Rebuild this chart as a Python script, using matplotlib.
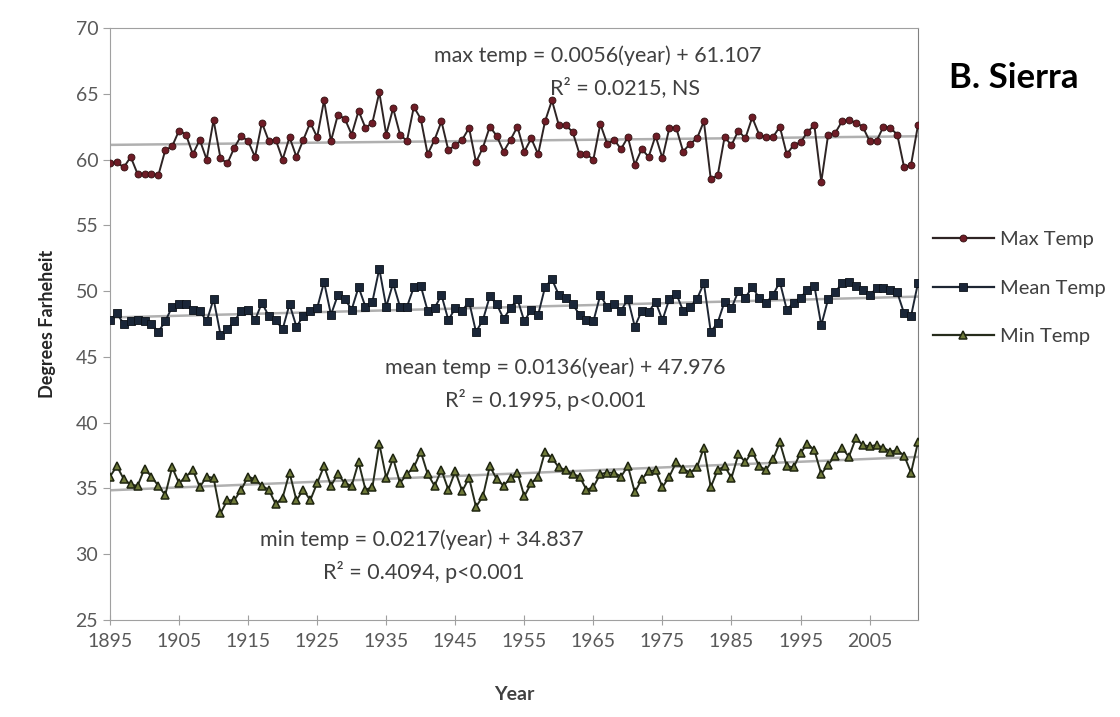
import numpy as np
import matplotlib.pyplot as plt
from matplotlib.lines import Line2D

# %% Data (1895-2012)
years = np.arange(1895, 2013)

max_temp = [59.7, 59.8, 59.4, 60.2, 58.9, 58.9, 58.9, 58.8, 60.7, 61.0,
            62.2, 61.9, 60.4, 61.5, 60.0, 63.0, 60.1, 59.7, 60.9, 61.8,
            61.4, 60.2, 62.8, 61.4, 61.5, 60.0, 61.7, 60.2, 61.5, 62.8,
            61.7, 64.5, 61.4, 63.4, 63.1, 61.9, 63.7, 62.4, 62.8, 65.1,
            61.9, 63.9, 61.9, 61.4, 64.0, 63.1, 60.4, 61.5, 62.9, 60.7,
            61.1, 61.5, 62.4, 59.8, 60.9, 62.5, 61.8, 60.6, 61.5, 62.5,
            60.6, 61.6, 60.4, 62.9, 64.5, 62.6, 62.6, 62.1, 60.4, 60.4,
            60.0, 62.7, 61.2, 61.5, 60.8, 61.7, 59.6, 60.8, 60.2, 61.8,
            60.1, 62.4, 62.4, 60.6, 61.2, 61.6, 62.9, 58.5, 58.8, 61.7,
            61.1, 62.2, 61.6, 63.2, 61.9, 61.7, 61.7, 62.5, 60.4, 61.1,
            61.3, 62.1, 62.6, 58.3, 61.9, 62.0, 62.9, 63.0, 62.8, 62.5,
            61.4, 61.4, 62.5, 62.4, 61.9, 59.4, 59.6, 62.6]

mean_temp = [47.8, 48.3, 47.5, 47.7, 47.8, 47.7, 47.5, 46.9, 47.7, 48.8,
             49.0, 49.0, 48.6, 48.5, 47.7, 49.4, 46.7, 47.1, 47.7, 48.5,
             48.6, 47.8, 49.1, 48.1, 47.8, 47.1, 49.0, 47.3, 48.1, 48.5,
             48.7, 50.7, 48.2, 49.7, 49.4, 48.6, 50.3, 48.8, 49.2, 51.7,
             48.8, 50.6, 48.8, 48.8, 50.3, 50.4, 48.5, 48.7, 49.7, 47.8,
             48.7, 48.5, 49.2, 46.9, 47.8, 49.6, 49.0, 47.9, 48.7, 49.4,
             47.7, 48.6, 48.2, 50.3, 50.9, 49.7, 49.5, 49.0, 48.2, 47.8,
             47.7, 49.7, 48.8, 49.0, 48.5, 49.4, 47.3, 48.5, 48.4, 49.2,
             47.8, 49.4, 49.8, 48.5, 48.8, 49.4, 50.6, 46.9, 47.6, 49.2,
             48.7, 50.0, 49.5, 50.3, 49.5, 49.1, 49.7, 50.7, 48.6, 49.1,
             49.5, 50.1, 50.4, 47.4, 49.4, 49.9, 50.6, 50.7, 50.4, 50.1,
             49.7, 50.2, 50.2, 50.1, 49.9, 48.3, 48.1, 50.6]

min_temp = [35.9, 36.7, 35.7, 35.3, 35.2, 36.5, 35.9, 35.2, 34.5, 36.6,
            35.4, 35.9, 36.4, 35.1, 35.9, 35.8, 33.1, 34.1, 34.1, 34.9,
            35.9, 35.7, 35.2, 34.9, 33.8, 34.3, 36.2, 34.1, 34.9, 34.1,
            35.4, 36.7, 35.2, 36.1, 35.4, 35.2, 37.0, 34.9, 35.1, 38.4,
            35.8, 37.3, 35.4, 36.1, 36.6, 37.8, 36.1, 35.2, 36.4, 34.9,
            36.3, 34.8, 35.8, 33.6, 34.4, 36.7, 35.7, 35.2, 35.8, 36.2,
            34.4, 35.4, 35.9, 37.8, 37.3, 36.6, 36.4, 36.1, 35.9, 34.9,
            35.1, 36.1, 36.2, 36.2, 35.9, 36.7, 34.7, 35.7, 36.3, 36.4,
            35.1, 35.9, 37.0, 36.5, 36.2, 36.6, 38.1, 35.1, 36.4, 36.7,
            35.8, 37.6, 37.0, 37.8, 36.7, 36.4, 37.2, 38.5, 36.7, 36.6,
            37.7, 38.4, 37.9, 36.1, 36.8, 37.5, 38.1, 37.4, 38.8, 38.3,
            38.2, 38.3, 38.1, 37.8, 37.9, 37.5, 36.2, 38.5]

# regression fits printed on the chart (x = year index 1..118)
fit_max = (0.0056, 61.107)
fit_mean = (0.0136, 47.976)
fit_min = (0.0217, 34.837)

x_ticks = list(range(1895, 2006, 10))
y_ticks = list(range(25, 71, 5))

# %% Plot
plt.rcParams['font.family'] = ['Lato', 'DejaVu Sans']
txt_col = '#404040'
tick_col = '#595959'

fig = plt.figure(figsize=(11.2, 7.17), dpi=100)
ax = fig.add_axes([0.0982, 0.1353, 0.7214, 0.8257])

idx = np.arange(1, len(years) + 1)
for slope, icpt in (fit_max, fit_mean, fit_min):
    ax.plot(years, icpt + slope * idx, color='#b0b0b0', linewidth=1.8, zorder=2)

max_style = dict(color='#2e2424', marker='o', markersize=5,
                 markerfacecolor='#6e1c26', markeredgecolor='#301010',
                 markeredgewidth=0.6)
mean_style = dict(color='#1e2633', marker='s', markersize=5.5,
                  markerfacecolor='#1a2638', markeredgecolor='#0c1118',
                  markeredgewidth=0.6)
min_style = dict(color='#262c1c', marker='^', markersize=6,
                 markerfacecolor='#6f7a3a', markeredgecolor='#1e2410',
                 markeredgewidth=1.1)

ax.plot(years, max_temp, linewidth=1.4, zorder=3, **max_style)
ax.plot(years, mean_temp, linewidth=1.4, zorder=3, **mean_style)
ax.plot(years, min_temp, linewidth=1.4, zorder=3, **min_style)

ax.set_xlim(1895, 2012)
ax.set_ylim(25, 70)
ax.set_xticks(x_ticks)
ax.set_yticks(y_ticks)
ax.tick_params(axis='both', colors='#a0a0a0', labelcolor=tick_col,
               labelsize=14, length=5)
ax.tick_params(axis='x', direction='inout', length=7, pad=6)
for side in ax.spines:
    ax.spines[side].set_color('#a0a0a0')
ax.spines['right'].set_color('#808080')

ax.set_xlabel('Year', fontsize=14, fontweight='bold', color=txt_col, labelpad=26)
ax.set_ylabel('Degrees Farheheit', fontsize=13, fontweight='bold',
              color='#262626', labelpad=14)

# regression annotations
ann = dict(ha='center', va='center', fontsize=15.5, color=txt_col)
fig.text(0.534, 0.923, 'max temp = 0.0056(year) + 61.107', **ann)
fig.text(0.558, 0.878, 'R² = 0.0215, NS', **ann)
fig.text(0.496, 0.487, 'mean temp = 0.0136(year) + 47.976', **ann)
fig.text(0.487, 0.442, 'R² = 0.1995, p<0.001', **ann)
fig.text(0.377, 0.247, 'min temp = 0.0217(year) + 34.837', **ann)
fig.text(0.378, 0.202, 'R² = 0.4094, p<0.001', **ann)

fig.text(0.905, 0.891, 'B. Sierra', ha='center', va='center', fontsize=25,
         fontweight='bold', color='black')

custom_lines = [
    Line2D([0], [0], linewidth=1.6, **max_style),
    Line2D([0], [0], linewidth=1.6, **mean_style),
    Line2D([0], [0], linewidth=1.6, **min_style),
]
fig.legend(custom_lines, ['Max Temp', 'Mean Temp', 'Min Temp'],
           loc='center left', bbox_to_anchor=(0.817, 0.598), frameon=False,
           fontsize=14.5, labelcolor=txt_col, handlelength=3.0,
           handletextpad=0.3, labelspacing=1.55)

fig.savefig('out.png', dpi=100)
